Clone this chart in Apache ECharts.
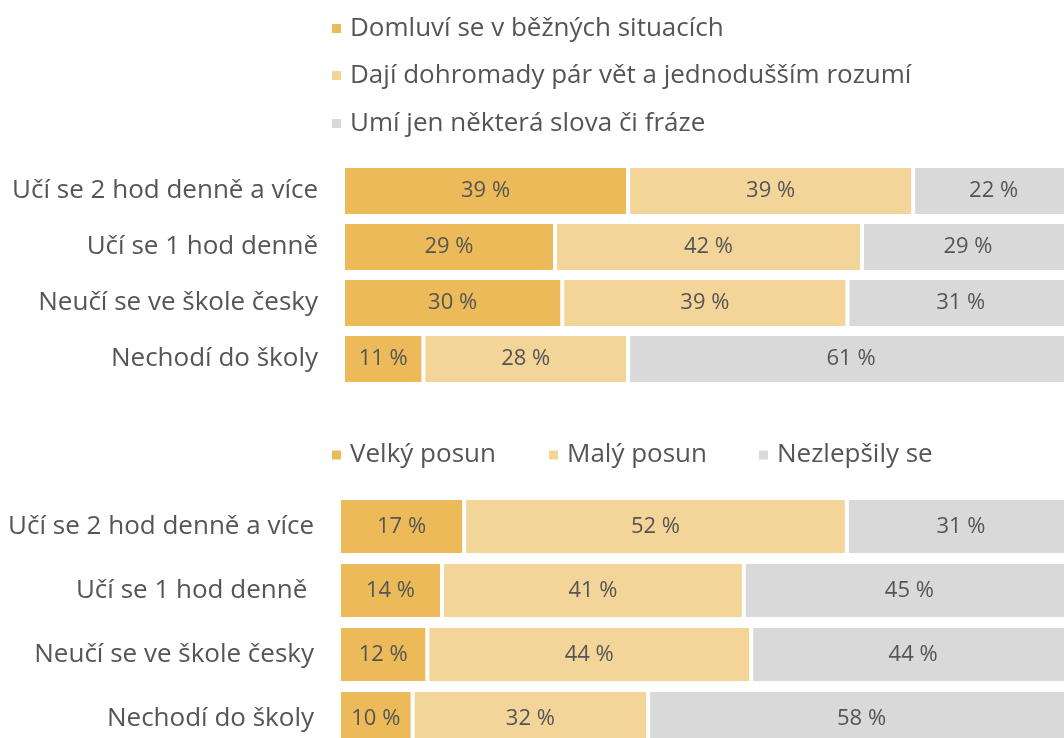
<!DOCTYPE html>
<html>
<head>
<meta charset="utf-8">
<script src="https://cdn.jsdelivr.net/npm/echarts@6/dist/echarts.min.js"></script>
<style>
  html, body { margin: 0; padding: 0; background: #fff; }
  #chart { width: 1064px; height: 738px; }
</style>
</head>
<body>
<div id="chart"></div>
<script>
  // skupiny dětí (dolní graf má v popisku mezeru navíc)
  var groups = ['Učí se 2 hod denně a více', 'Učí se 1 hod denně', 'Neučí se ve škole česky', 'Nechodí do školy'];
  var groupsShift = ['Učí se 2 hod denně a více', 'Učí se 1 hod denně ', 'Neučí se ve škole česky', 'Nechodí do školy'];

  // horní graf - úroveň češtiny
  var levelNames = ['Domluví se v běžných situacích', 'Dají dohromady pár vět a jednodušším rozumí', 'Umí jen některá slova či fráze'];
  var levelGood = [39, 29, 30, 11];
  var levelMid = [39, 42, 39, 28];
  var levelLow = [22, 29, 31, 61];

  // dolní graf - posun
  var shiftNames = ['Velký posun', 'Malý posun', 'Nezlepšily se'];
  var shiftBig = [17, 14, 12, 10];
  var shiftSmall = [52, 41, 44, 32];
  var shiftNone = [31, 45, 44, 58];

  var colors = ['#ecba58', '#f3d599', '#d9d9d9'];
  var font = 'Open Sans';
  var textColor = '#555555';

  function barSeries(name, data, idx, color, gap) {
    return {
      name: name,
      type: 'bar',
      stack: 'total' + idx,
      xAxisIndex: idx,
      yAxisIndex: idx,
      data: data,
      barCategoryGap: gap,
      itemStyle: { color: color, borderColor: '#fff', borderWidth: 2 },
      label: {
        show: true,
        position: 'inside',
        formatter: '{c} %',
        color: textColor,
        fontFamily: font,
        fontSize: 22
      },
      emphasis: { disabled: true }
    };
  }

  function legendItem(name, left, top) {
    return {
      data: [name],
      left: left,
      top: top,
      orient: 'vertical',
      itemWidth: 11,
      itemHeight: 11,
      icon: 'rect',
      padding: 0,
      selectedMode: false,
      textStyle: { color: textColor, fontFamily: font, fontSize: 26, padding: [0, 0, 0, 3] }
    };
  }

  var catAxis = function (idx, cats) {
    return {
      type: 'category',
      gridIndex: idx,
      data: cats,
      inverse: true,
      axisLine: { show: false },
      axisTick: { show: false },
      axisLabel: { color: textColor, fontFamily: font, fontSize: 26, margin: 25 }
    };
  };

  var valAxis = function (idx) {
    return {
      type: 'value',
      gridIndex: idx,
      min: 0,
      max: 100,
      show: false
    };
  };

  var chart = echarts.init(document.getElementById('chart'));

  var option = {
    animation: false,
    backgroundColor: '#fff',
    color: colors,
    legend: [
      legendItem(levelNames[0], 330, 15.5),
      legendItem(levelNames[1], 330, 62.5),
      legendItem(levelNames[2], 330, 110.5),
      legendItem(shiftNames[0], 330, 442),
      legendItem(shiftNames[1], 547, 442),
      legendItem(shiftNames[2], 757, 442)
    ],
    grid: [
      { left: 343, width: 731, top: 163, height: 224, outerBoundsMode: 'none', containLabel: false },
      { left: 339, width: 736, top: 494.5, height: 256, outerBoundsMode: 'none', containLabel: false }
    ],
    xAxis: [valAxis(0), valAxis(1)],
    yAxis: [catAxis(0, groups), catAxis(1, groupsShift)],
    series: [
      barSeries(levelNames[0], levelGood, 0, colors[0], '10.7%'),
      barSeries(levelNames[1], levelMid, 0, colors[1], '10.7%'),
      barSeries(levelNames[2], levelLow, 0, colors[2], '10.7%'),
      barSeries(shiftNames[0], shiftBig, 1, colors[0], '11%'),
      barSeries(shiftNames[1], shiftSmall, 1, colors[1], '11%'),
      barSeries(shiftNames[2], shiftNone, 1, colors[2], '11%')
    ]
  };

  chart.setOption(option);
</script>
</body>
</html>
